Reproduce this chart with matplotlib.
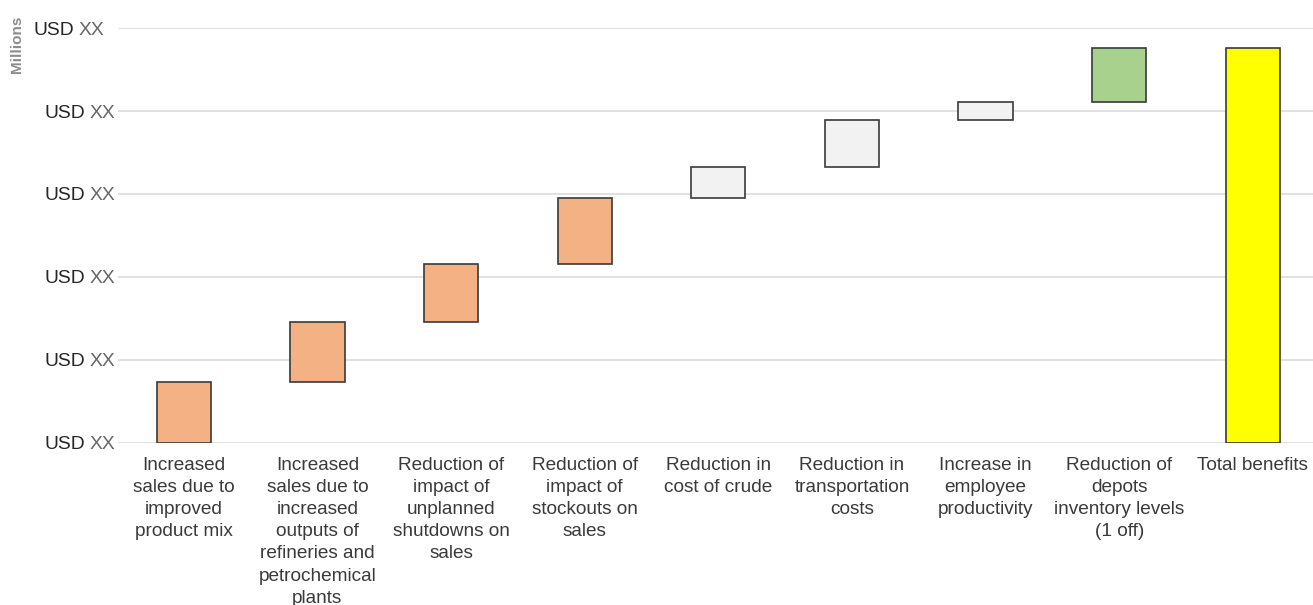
import numpy as np
import matplotlib.pyplot as plt
from matplotlib import transforms

plt.rcParams['font.family'] = ['Liberation Sans', 'DejaVu Sans']

# benefit steps (millions), read left to right
categories = [
    "Increased\nsales due to\nimproved\nproduct mix",
    "Increased\nsales due to\nincreased\noutputs of\nrefineries and\npetrochemical\nplants",
    "Reduction of\nimpact of\nunplanned\nshutdowns on\nsales",
    "Reduction of\nimpact of\nstockouts on\nsales",
    "Reduction in\ncost of crude",
    "Reduction in\ntransportation\ncosts",
    "Increase in\nemployee\nproductivity",
    "Reduction of\ndepots\ninventory levels\n(1 off)",
]
total_label = "Total benefits"
steps = [73.6, 72.0, 69.6, 80.3, 37.1, 56.1, 22.5, 64.6]
step_colors = ['#F4B183'] * 4 + ['#F2F2F2'] * 3 + ['#A9D18E']
total_color = '#FFFF00'
y_ticks = [0, 100, 200, 300, 400, 500]

fig = plt.figure(figsize=(13.13, 6.05), dpi=100)
ax = fig.add_axes([118.3 / 1313, (605 - 442.7) / 605, 1 - 118.3 / 1313, (442.7 - 28) / 605])

steps = np.array(steps)
bottoms = np.concatenate([[0], np.cumsum(steps)[:-1]])
total = steps.sum()
x = np.arange(len(steps) + 1)

ax.bar(x[:-1], steps, bottom=bottoms, width=0.406, color=step_colors,
       edgecolor='#3a3a3a', linewidth=1.2, zorder=3)
ax.bar(x[-1], total, width=0.406, color=total_color,
       edgecolor='#3a3a3a', linewidth=1.2, zorder=3)

ax.set_xlim(-0.49, 8.45)
ax.set_ylim(0, 500)
ax.set_yticks(y_ticks)
ax.set_yticklabels([])
ax.tick_params(axis='y', length=0)
ax.grid(axis='y', color='#D9D9D9', linewidth=1.1, zorder=0)
ax.set_xticks(x)
ax.set_xticklabels(categories + [total_label], fontsize=13.7, color='#3a3a3a',
                   linespacing=1.40)
ax.tick_params(axis='x', length=0, pad=10)
for s in ax.spines.values():
    s.set_visible(False)

# "USD XX" placeholders on the value axis, drawn as two coloured parts
ytrans = ax.get_yaxis_transform()
for i, yv in enumerate(y_ticks):
    shift = -11 if yv == y_ticks[-1] else 0
    t1 = transforms.offset_copy(ytrans, fig=fig, x=(-33 + shift) * 0.72, y=-1.5, units='points')
    t2 = transforms.offset_copy(ytrans, fig=fig, x=(-29 + shift) * 0.72, y=-1.5, units='points')
    ax.text(0, yv, "USD", transform=t1, ha='right', va='center', fontsize=13.9,
            color='#262626')
    ax.text(0, yv, "XX", transform=t2, ha='left', va='center', fontsize=13.9,
            color='#666666')

fig.text(17 / 1313, 1 - 44 / 605, "Millions", rotation=90, ha='center', va='center',
         fontsize=11, fontweight='bold', color='#8c8c8c')

fig.savefig('out.png', dpi=100)
